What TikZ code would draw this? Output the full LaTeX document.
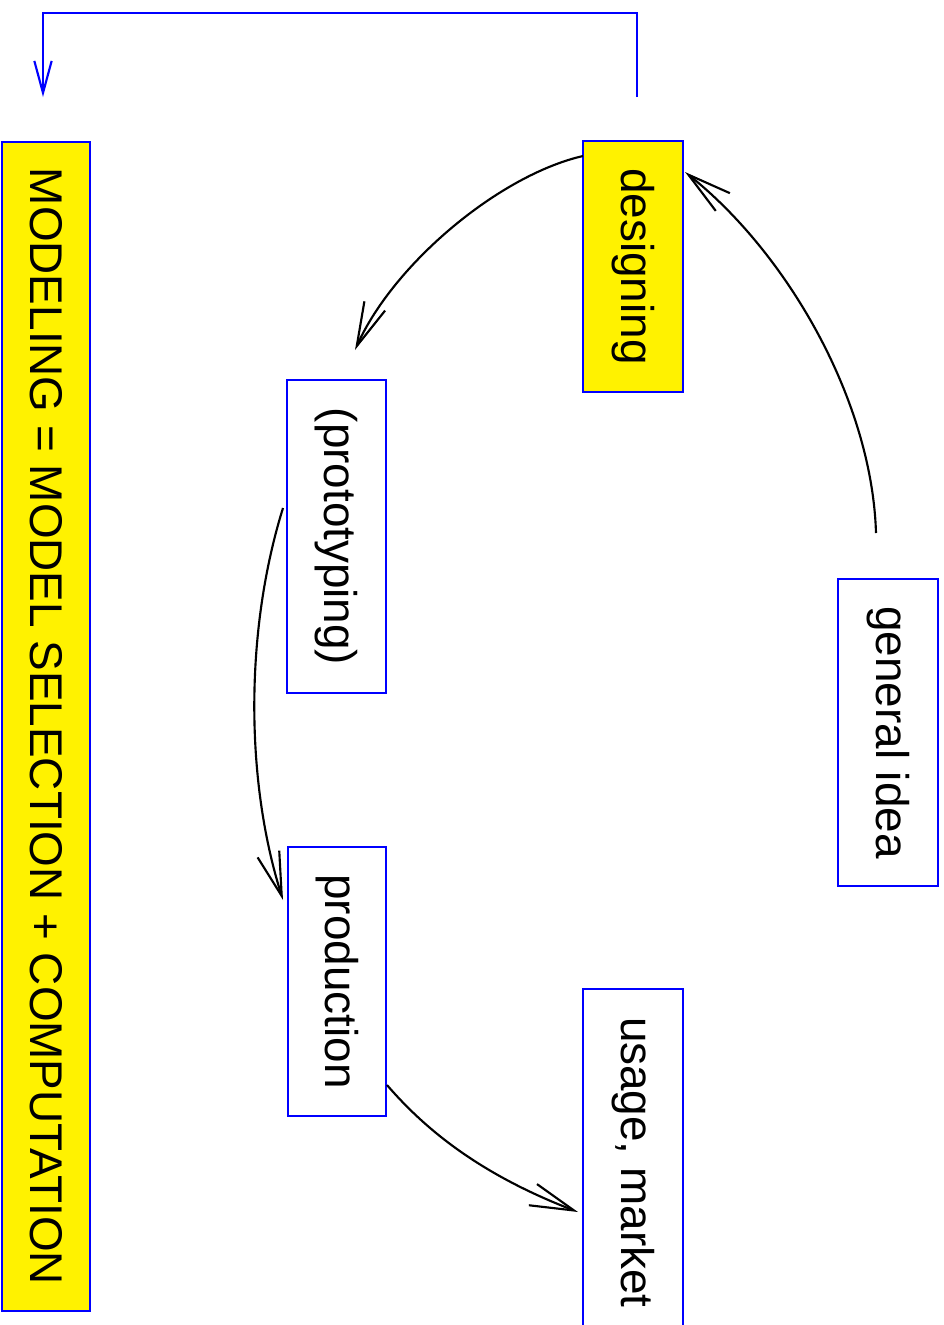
\documentclass[tikz,border=0pt]{standalone}
\usepackage{fontspec}
\setmainfont{Liberation Sans}
\usetikzlibrary{arrows.meta}
\definecolor{boxyellow}{RGB}{255,242,0}
\definecolor{boxblue}{RGB}{0,0,255}
\begin{document}
\begin{tikzpicture}[x=0.75pt,y=-0.75pt,
  box/.style={draw=boxblue,line width=2pt,rotate=-90,inner sep=0pt,
    font=\fontsize{34.4}{40}\selectfont,text=black},
  ybox/.style={box,fill=boxyellow},
  wbox/.style={box,fill=white},
  flow/.style={draw=black,line width=1.6pt,-{Straight Barb[length=33pt,width=17pt,line width=1.6pt]}},
  back/.style={draw=boxblue,line width=1.6pt,-{Straight Barb[length=24pt,width=13pt,line width=1.6pt]}}]
\useasboundingbox (0,0) rectangle (944,1325);
\node[ybox,minimum width=876.75pt,minimum height=66pt] (model) at (46,726.5) {MODELING = MODEL SELECTION + COMPUTATION};
\node[ybox,minimum width=188.25pt,minimum height=75pt] (des) at (633,266.5) {designing};
\node[wbox,minimum width=234.75pt,minimum height=74.25pt] (proto) at (336.5,536.5) {(prototyping)};
\node[wbox,minimum width=201.75pt,minimum height=73.5pt] (prod) at (337,981.5) {production};
\node[wbox,minimum width=270pt,minimum height=75pt] (use) at (633,1169) {usage, market\hspace*{10pt}};
\node[wbox,minimum width=230.25pt,minimum height=75pt] (gen) at (888,732.5) {general idea};
% free ends of the connectors
\coordinate (genout) at (876,533);
\coordinate (desin) at (685,172);
\coordinate (desout) at (583,156);
\coordinate (protoin) at (355,350);
\coordinate (protoout) at (283,508);
\coordinate (prodin) at (283,900);
\coordinate (prodout) at (387,1085);
\coordinate (usein) at (578,1212);
\coordinate (loopstart) at (637,97);
\coordinate (loopend) at (43,97);
\draw[flow] (genout) .. controls (872,400) and (787,253) .. (desin);
\draw[flow] (desout) .. controls (500,175) and (394,263) .. (protoin);
\draw[flow] (protoout) .. controls (245,630) and (245,780) .. (prodin);
\draw[flow] (prodout) .. controls (430,1135) and (487,1177) .. (usein);
\draw[back] (loopstart) -- (637,13) -- (43,13) -- (loopend);
\end{tikzpicture}
\end{document}
